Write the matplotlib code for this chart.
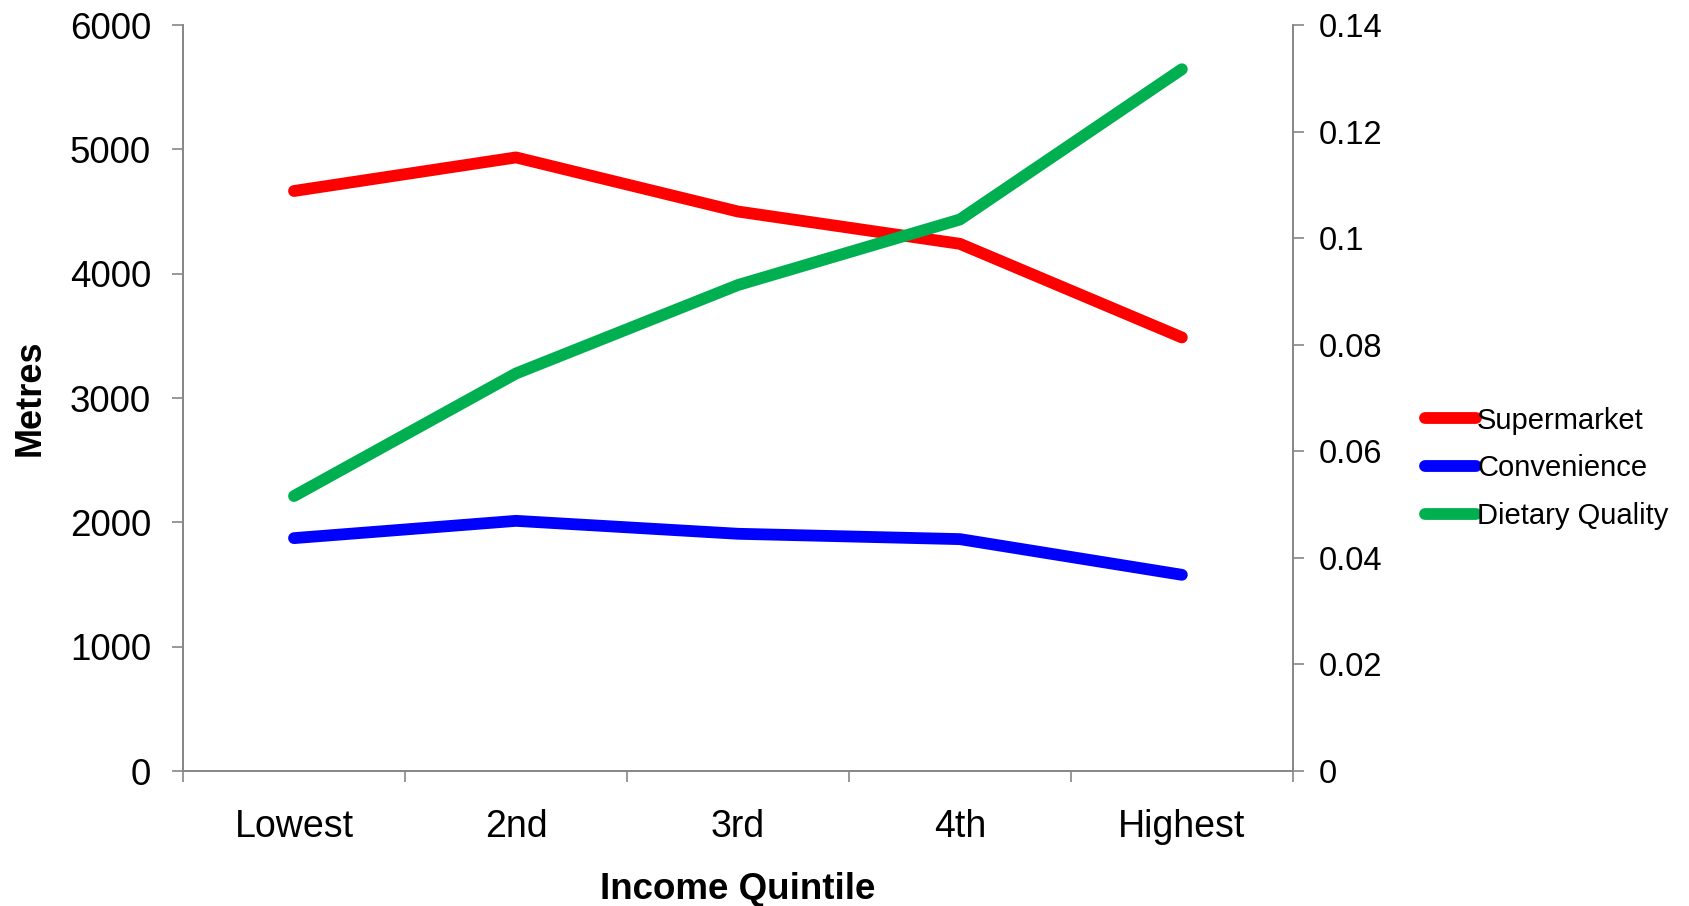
import numpy as np
import matplotlib.pyplot as plt
from matplotlib.ticker import FixedLocator, NullFormatter

# income quintiles and distances / dietary scores
quintiles = ['Lowest', '2nd', '3rd', '4th', 'Highest']
supermarket = [4665, 4935, 4500, 4240, 3487]
convenience = [1873, 2012, 1908, 1865, 1578]
dietary_quality = [0.0516, 0.0746, 0.0912, 0.1035, 0.1317]

plt.rcParams['font.family'] = ['Liberation Sans', 'DejaVu Sans']
grey = '#868686'

fig = plt.figure(figsize=(16.9, 9.06), dpi=100)
ax = fig.add_axes([0.1083, 0.149, 0.6567, 0.8234])
ax2 = ax.twinx()

x = np.arange(len(quintiles)) + 0.5
l1, = ax.plot(x, supermarket, color='#FF0000', lw=8.5, solid_capstyle='round', label='Supermarket')
l2, = ax.plot(x, convenience, color='#0000FF', lw=8.5, solid_capstyle='round', label='Convenience')
l3, = ax2.plot(x, dietary_quality, color='#00B050', lw=8.5, solid_capstyle='round', label='Dietary Quality')

ax.set_xlim(0, len(quintiles))
ax.set_ylim(0, 6000)
ax.set_yticks(np.arange(0, 6001, 1000))
ax2.set_ylim(0, 0.14)
ax2.set_yticks(np.arange(0, 0.141, 0.02))
ax2.set_yticklabels(['0', '0.02', '0.04', '0.06', '0.08', '0.1', '0.12', '0.14'])

# boundary ticks on the x axis, labels in the middle of each category
ax.xaxis.set_major_locator(FixedLocator(np.arange(0, len(quintiles) + 1)))
ax.xaxis.set_major_formatter(NullFormatter())
ax.xaxis.set_minor_locator(FixedLocator(x))
ax.set_xticklabels(quintiles, minor=True)
ax.tick_params(axis='x', which='minor', length=0, pad=27, labelsize=27)
ax.tick_params(axis='x', which='major', length=8, width=1.2, color=grey)
ax.tick_params(axis='y', length=8, width=1.2, color=grey, pad=15, labelsize=26.5)
ax2.tick_params(axis='y', length=8, width=1.2, color=grey, pad=11, labelsize=23.5)

for a in (ax, ax2):
    a.spines['top'].set_visible(False)
    for s in ('left', 'right', 'bottom'):
        a.spines[s].set_color(grey)
        a.spines[s].set_linewidth(1.2)

ax.set_xlabel('Income Quintile', fontsize=26.5, fontweight='bold', labelpad=20)
ax.set_ylabel('Metres', fontsize=26, fontweight='bold', labelpad=16)

fig.legend(handles=[l1, l2, l3], loc='center left', bbox_to_anchor=(0.836, 0.483),
           frameon=False, fontsize=21, handlelength=1.75, handletextpad=0.05,
           labelspacing=0.68, borderaxespad=0)

fig.savefig('out.png', dpi=100)
